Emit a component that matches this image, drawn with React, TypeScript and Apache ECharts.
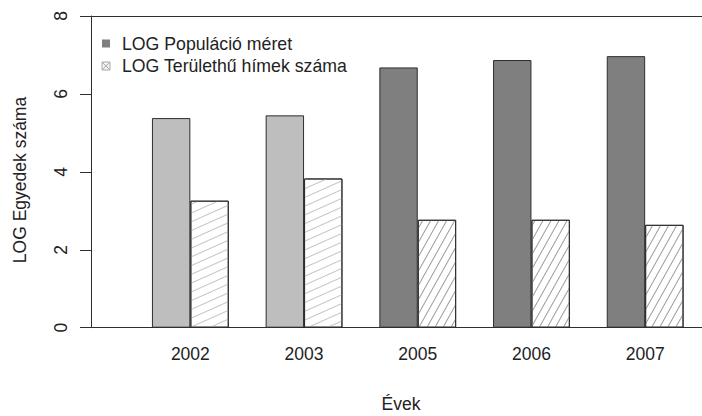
import React, { useEffect, useRef } from "react";
import * as echarts from "echarts";

const years = ["2002", "2003", "2005", "2006", "2007"];
const popLog = [5.38, 5.45, 6.68, 6.87, 6.97];
const terLog = [3.26, 3.83, 2.77, 2.77, 2.64];
const yMin = 0;
const yMax = 8;
const yInterval = 2;
const seriesNames = ["LOG Populáció méret", "LOG Területhű hímek száma"];
const xTitle = "Évek";
const yTitle = "LOG Egyedek száma";

const FONT = "'Liberation Sans', Arial, sans-serif";
const LINE = "#2e2e2e";

export default function App() {
  const ref = useRef<HTMLDivElement>(null);
  useEffect(() => {
    if (!ref.current) return;
    const chart = echarts.init(ref.current, undefined, { renderer: "svg" });
    const popData = popLog.map((v, i) => ({
      value: v,
      itemStyle: { color: i < 2 ? "#bebebe" : "#7f7f7f" },
    }));
    const terData = terLog.map((v, i) => ({
      value: v,
      itemStyle: {
        color: "#ffffff",
        decal: {
          symbol: "rect",
          symbolSize: 1,
          dashArrayX: [1, 0],
          dashArrayY: i < 2 ? [1, 7] : [1, 5.5],
          rotation: i < 2 ? -0.42 : -1.06,
          color: i < 2 ? "#c4c4c4" : "#9c9c9c",
        },
      },
    }));
    chart.setOption({
      animation: false,
      backgroundColor: "#ffffff",
      textStyle: { fontFamily: FONT },
      grid: { left: 133.5, top: 16, width: 575.1, height: 311.7, containLabel: false },
      legend: {
        orient: "vertical",
        left: 96.5,
        top: 29.5,
        itemWidth: 22,
        itemHeight: 8,
        itemGap: 4.5,
        symbolKeepAspect: true,
        textStyle: { fontFamily: FONT, fontSize: 17.7, color: "#222" },
        data: [
          {
            name: seriesNames[0],
            icon: "path://M0,0H8V8H0Z",
            itemStyle: { color: "#7f7f7f", borderWidth: 0 },
          },
          {
            name: seriesNames[1],
            icon: "path://M0,0H8V8H0Z M0,0L8,8 M8,0L0,8",
            itemStyle: { color: "#f4f4f4", borderColor: "#a8a8a8", borderWidth: 1 },
          },
        ],
      },
      xAxis: {
        type: "category",
        data: years,
        axisLine: { show: false },
        axisTick: { show: false },
        axisLabel: { fontFamily: FONT, fontSize: 17.5, color: "#222", margin: 17 },
      },
      yAxis: {
        type: "value",
        min: yMin,
        max: yMax,
        interval: yInterval,
        offset: 42.5,
        splitLine: { show: false },
        axisLine: { show: true, lineStyle: { color: LINE, width: 1 } },
        axisTick: { show: true, length: 11, lineStyle: { color: LINE, width: 1 } },
        axisLabel: { fontFamily: FONT, fontSize: 17.5, color: "#222", rotate: 90, margin: 21 },
      },
      series: [
        {
          name: seriesNames[0],
          type: "bar",
          data: popData,
          barWidth: 38.4,
          barGap: "0%",
          itemStyle: { color: "#7f7f7f", borderColor: LINE, borderWidth: 1 },
        },
        {
          name: seriesNames[1],
          type: "bar",
          data: terData,
          barWidth: 38.4,
          barGap: "0%",
          itemStyle: { color: "#ffffff", borderColor: LINE, borderWidth: 1 },
        },
      ],
      graphic: [
        {
          type: "line",
          shape: { x1: 80, y1: 16.5, x2: 702, y2: 16.5 },
          style: { stroke: LINE, lineWidth: 1 },
          silent: true,
        },
        {
          type: "line",
          shape: { x1: 80, y1: 327.5, x2: 702, y2: 327.5 },
          style: { stroke: LINE, lineWidth: 1 },
          silent: true,
          z: 10,
        },
        {
          type: "text",
          x: 401,
          y: 404,
          style: {
            text: xTitle,
            fontFamily: FONT,
            fontSize: 17.5,
            fill: "#222",
            align: "center",
            verticalAlign: "middle",
          },
        },
        {
          type: "text",
          x: 20,
          y: 180,
          rotation: Math.PI / 2,
          style: {
            text: yTitle,
            fontFamily: FONT,
            fontSize: 17.5,
            fill: "#222",
            align: "center",
            verticalAlign: "middle",
          },
        },
      ],
    });
    return () => chart.dispose();
  }, []);
  return (
    <div
      ref={ref}
      style={{ position: "absolute", left: 0, top: 0, width: 702, height: 416 }}
    />
  );
}
